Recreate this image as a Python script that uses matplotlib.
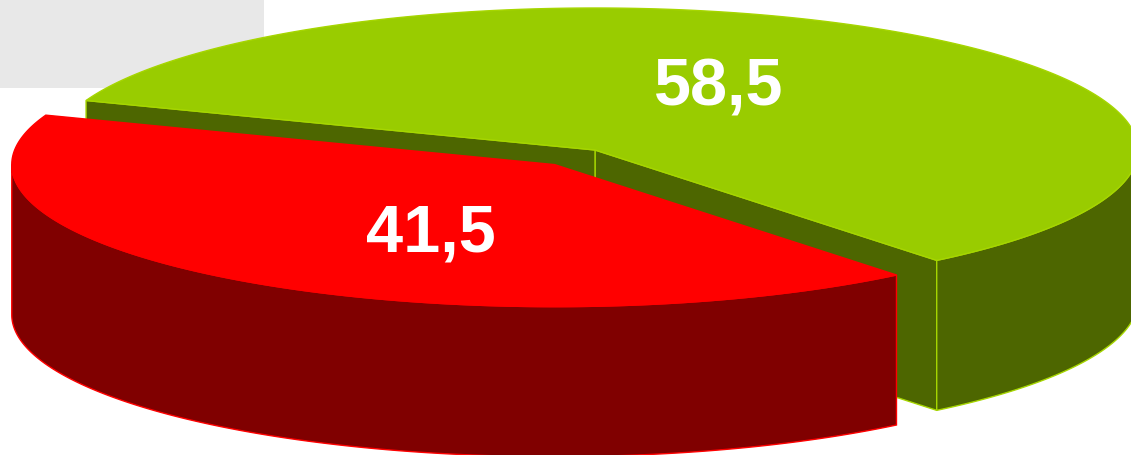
import numpy as np
import matplotlib.pyplot as plt
from matplotlib.patches import Polygon, Rectangle

# pie values (percent) and their look
labels = ['58,5', '41,5']
values = [58.5, 41.5]
top_colors = ['#99cc00', '#ff0000']
side_colors = ['#4d6600', '#800000']
edge_colors = ['#a6d600', '#ff0000']
explode = [0.0, 0.127]
label_pos = [(719, 105), (431, 252)]   # text baseline

# pie geometry in pixels
cx, cy = 595, 150      # centre of the top ellipse
a, b = 543, 142        # semi axes
depth = 150
start = -51            # degrees, first edge of the first slice


def pt(x0, y0, t, r=1.0):
    return x0 + a * r * np.cos(t), y0 - b * r * np.sin(t)


fig = plt.figure(figsize=(11.31, 4.55), dpi=100)
ax = fig.add_axes([0, 0, 1, 1])
ax.set_xlim(0, 1131)
ax.set_ylim(455, 0)
ax.axis('off')

# grey box in the corner
ax.add_patch(Rectangle((0, 0), 264, 88, facecolor='#e8e8e8', edgecolor='none'))

fracs = np.array(values) / sum(values)
angle = np.radians(start)
for i in range(len(values)):
    t0 = angle
    t1 = angle + fracs[i] * 2 * np.pi
    angle = t1
    mid = (t0 + t1) / 2
    # slice centre, moved out along the mid angle when exploded
    x0, y0 = pt(cx, cy, mid, explode[i])
    ec = edge_colors[i]

    # radial side faces facing the viewer
    for t, sgn in [(t0, -1), (t1, 1)]:
        nt = t + sgn * np.pi / 2
        if np.sin(nt) < 0:
            px, py = pt(x0, y0, t)
            face = [(x0, y0), (px, py), (px, py + depth), (x0, y0 + depth)]
            ax.add_patch(Polygon(face, closed=True, facecolor=side_colors[i],
                                 edgecolor=ec, lw=1))

    # outer rim, only the front half
    lo = t0 % (2 * np.pi)
    hi = lo + (t1 - t0)
    for k in range(-1, 2):
        s0 = max(lo, np.pi + 2 * np.pi * k)
        s1 = min(hi, 2 * np.pi + 2 * np.pi * k)
        if s1 > s0:
            ts = np.linspace(s0, s1, 200)
            xs, ys = pt(x0, y0, ts)
            rim = list(zip(xs, ys)) + list(zip(xs[::-1], ys[::-1] + depth))
            ax.add_patch(Polygon(rim, closed=True, facecolor=side_colors[i],
                                 edgecolor=ec, lw=1))

    # top surface
    ts = np.linspace(t0, t1, 400)
    xs, ys = pt(x0, y0, ts)
    top = [(x0, y0)] + list(zip(xs, ys))
    ax.add_patch(Polygon(top, closed=True, facecolor=top_colors[i],
                         edgecolor=ec, lw=1))

for i in range(len(values)):
    ax.text(label_pos[i][0], label_pos[i][1], labels[i], color='white',
            fontsize=48, fontweight='bold', family='Liberation Sans',
            ha='center', va='baseline')

fig.savefig('out.png', dpi=100)
